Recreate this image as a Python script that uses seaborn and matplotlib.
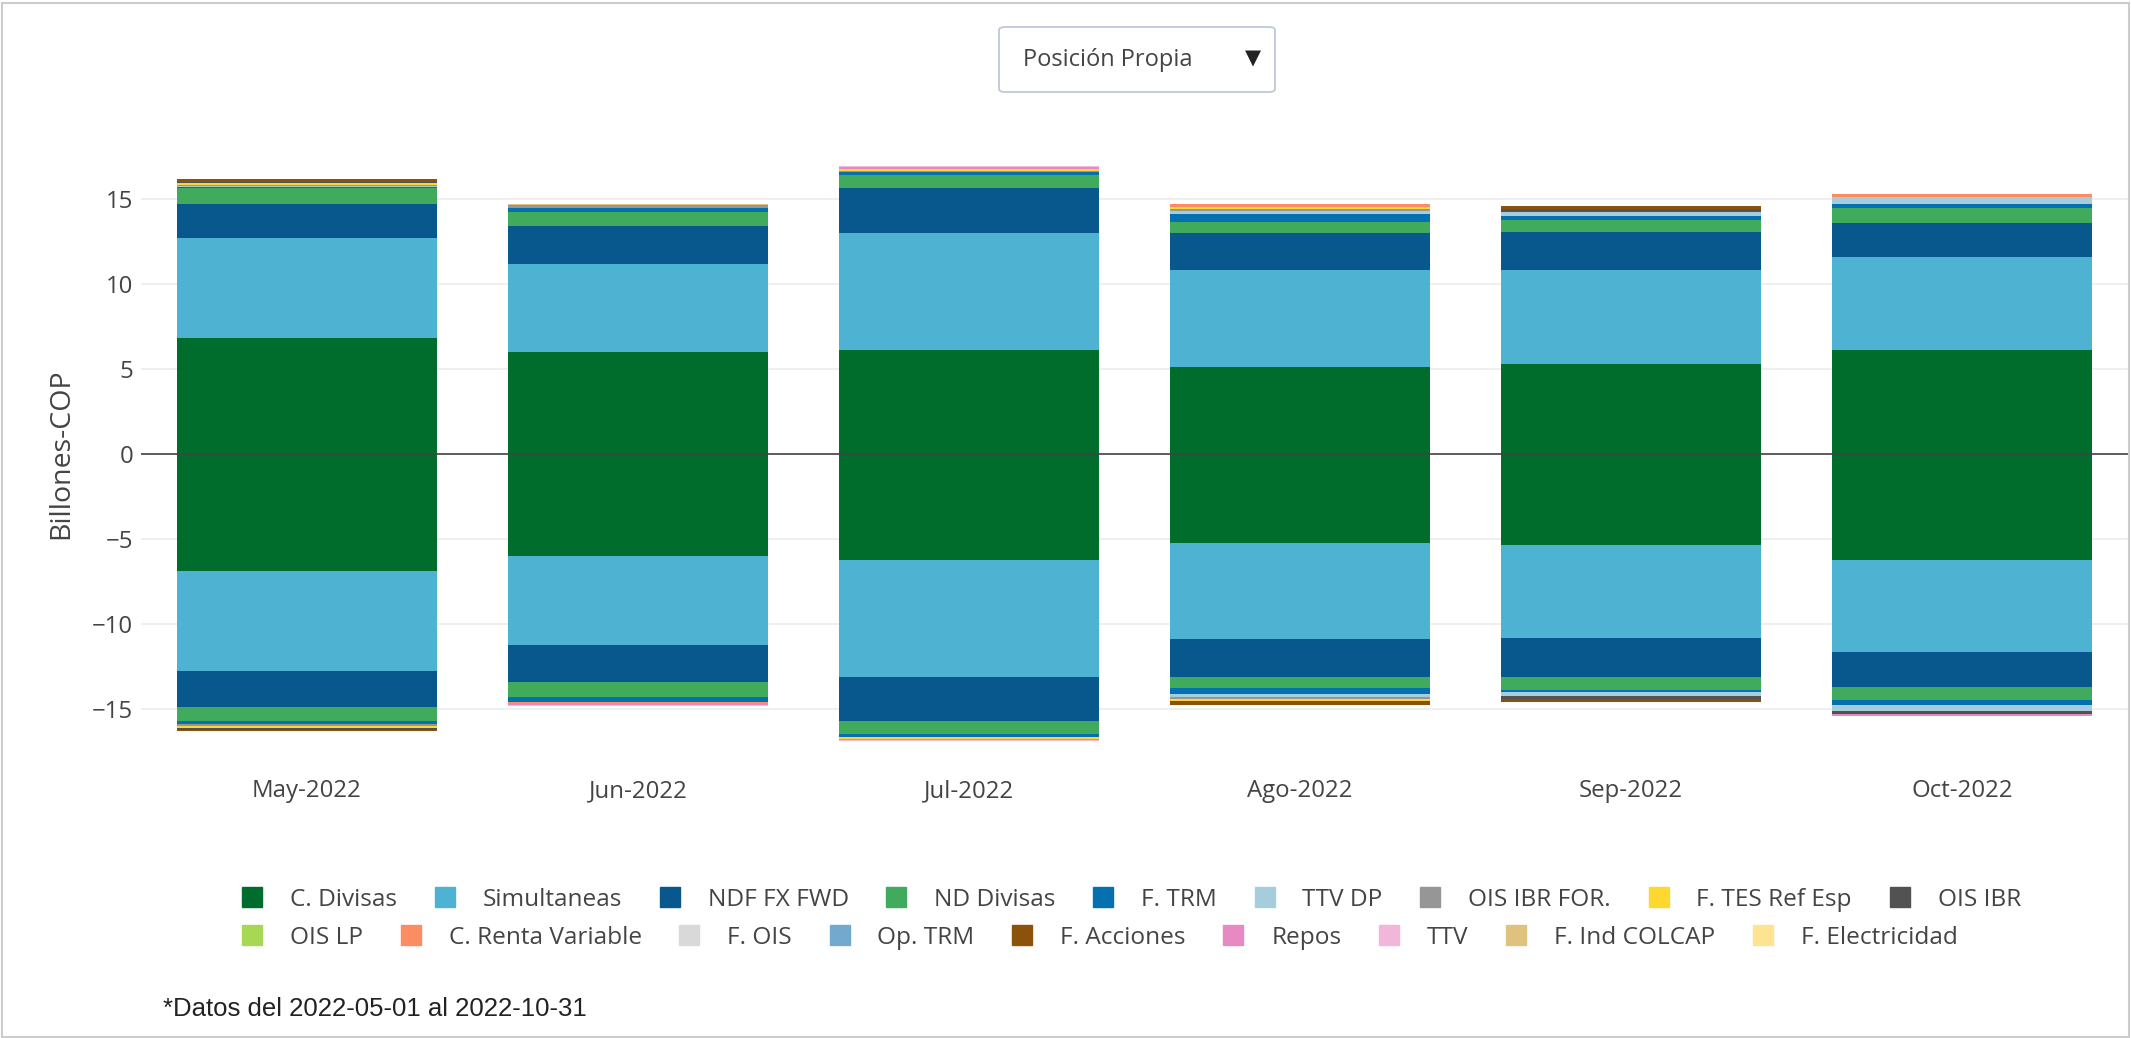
import numpy as np
import pandas as pd
import seaborn as sns
import matplotlib.pyplot as plt
from matplotlib.lines import Line2D
from matplotlib.patches import FancyBboxPatch, Rectangle

# DATOS (billones COP), posicion larga (positiva) y corta (negativa) por mes
meses = ["May-2022", "Jun-2022", "Jul-2022", "Ago-2022", "Sep-2022", "Oct-2022"]

categorias = ["C. Divisas", "Simultaneas", "NDF FX FWD", "ND Divisas", "F. TRM", "TTV DP",
              "OIS IBR FOR.", "F. TES Ref Esp", "OIS IBR", "OIS LP", "C. Renta Variable",
              "F. OIS", "Op. TRM", "F. Acciones", "Repos", "TTV", "F. Ind COLCAP",
              "F. Electricidad"]

colores = ["#006d2c", "#4eb3d3", "#08588e", "#41ab5d", "#0570b0", "#a6cddb",
           "#969696", "#fed82f", "#525252", "#a6d854", "#fc8d62",
           "#d9d9d9", "#74a9cf", "#8c510a", "#e78ac3", "#f1b6da", "#dfc27d",
           "#fee391"]

# posicion larga
c_divisas_pos = [6.8, 6.0, 6.1, 5.1, 5.3, 6.1]
simultaneas_pos = [5.9, 5.15, 6.9, 5.7, 5.5, 5.45]
ndf_pos = [2.0, 2.25, 2.6, 2.2, 2.25, 2.0]
nd_divisas_pos = [0.9, 0.8, 0.8, 0.65, 0.7, 0.9]
f_trm_pos = [0.1, 0.25, 0.15, 0.45, 0.25, 0.25]
ttv_dp_pos = [0.05, 0, 0, 0.2, 0.2, 0.4]
ois_ibr_for_pos = [0.05, 0.15, 0.05, 0.1, 0, 0]
f_tes_pos = [0.1, 0, 0.15, 0.1, 0, 0]
ois_ibr_pos = [0.1, 0, 0, 0, 0.2, 0]
ois_lp_pos = [0, 0, 0, 0, 0, 0]
c_renta_pos = [0, 0, 0, 0.2, 0, 0.15]
f_ois_pos = [0, 0, 0, 0, 0, 0]
op_trm_pos = [0, 0, 0, 0, 0, 0]
f_acciones_pos = [0.15, 0, 0, 0, 0.15, 0]
repos_pos = [0, 0, 0.1, 0, 0, 0]
ttv_pos = [0, 0, 0.05, 0, 0, 0]
f_colcap_pos = [0, 0.1, 0, 0, 0, 0]
f_electricidad_pos = [0, 0, 0, 0, 0, 0]

# posicion corta
c_divisas_neg = [-6.85, -6.0, -6.2, -5.2, -5.35, -6.25]
simultaneas_neg = [-5.9, -5.2, -6.9, -5.65, -5.45, -5.4]
ndf_neg = [-2.1, -2.2, -2.6, -2.25, -2.3, -2.05]
nd_divisas_neg = [-0.85, -0.87, -0.75, -0.65, -0.75, -0.76]
f_trm_neg = [-0.15, -0.3, -0.15, -0.35, -0.15, -0.26]
ttv_dp_neg = [0, 0, 0, -0.2, -0.2, -0.37]
ois_ibr_for_neg = [-0.1, 0, -0.05, -0.1, 0, 0]
f_tes_neg = [-0.15, 0, -0.1, -0.1, 0, 0]
ois_ibr_neg = [-0.1, 0, 0, -0.05, -0.2, -0.2]
ois_lp_neg = [0, 0, 0, 0, 0, 0]
c_renta_neg = [0, -0.1, -0.05, 0, 0, 0]
f_ois_neg = [0, 0, 0, 0, 0, 0]
op_trm_neg = [0, 0, 0, 0, 0, 0]
f_acciones_neg = [-0.05, 0, 0, -0.2, -0.15, 0]
repos_neg = [0, -0.1, 0, 0, 0, -0.1]
ttv_neg = [0, -0.05, -0.05, 0, 0, 0]
f_colcap_neg = [0, 0, 0, 0, 0, 0]
f_electricidad_neg = [0, 0, 0, 0, 0, 0]

series_pos = [c_divisas_pos, simultaneas_pos, ndf_pos, nd_divisas_pos, f_trm_pos, ttv_dp_pos,
              ois_ibr_for_pos, f_tes_pos, ois_ibr_pos, ois_lp_pos, c_renta_pos, f_ois_pos,
              op_trm_pos, f_acciones_pos, repos_pos, ttv_pos, f_colcap_pos, f_electricidad_pos]
series_neg = [c_divisas_neg, simultaneas_neg, ndf_neg, nd_divisas_neg, f_trm_neg, ttv_dp_neg,
              ois_ibr_for_neg, f_tes_neg, ois_ibr_neg, ois_lp_neg, c_renta_neg, f_ois_neg,
              op_trm_neg, f_acciones_neg, repos_neg, ttv_neg, f_colcap_neg, f_electricidad_neg]

# ESTILO
sns.set_style("white")
plt.rcParams['font.family'] = ['Open Sans', 'DejaVu Sans']

fig = plt.figure(figsize=(21.31, 10.38), dpi=100)
ax = fig.add_axes([0.0664, 0.2707, 0.932, 0.5838])

# barras apiladas: se dibuja la suma acumulada de arriba hacia abajo
cum_pos = np.cumsum(np.array(series_pos), axis=0)
cum_neg = np.cumsum(np.array(series_neg), axis=0)
for i in range(len(categorias) - 1, -1, -1):
    for cum in (cum_pos, cum_neg):
        sns.barplot(x=meses, y=cum[i], color=colores[i], width=0.785,
                    saturation=1, errorbar=None, linewidth=0, ax=ax)

ax.set_xlim(-0.5, 5.5)
ax.set_ylim(-17.8, 17.8)
ax.set_yticks([-15, -10, -5, 0, 5, 10, 15])
ax.set_yticklabels(["−15", "−10", "−5", "0", "5", "10", "15"])
ax.grid(axis='y', color='#eeeeee', linewidth=1.3, zorder=0)
ax.set_axisbelow(True)
ax.axhline(0, color='#444444', linewidth=1.2, zorder=5)
sns.despine(ax=ax, left=True, bottom=True)
ax.tick_params(axis='x', length=0, pad=16, labelsize=17.3, labelcolor='#444444')
ax.tick_params(axis='y', length=0, pad=6, labelsize=17.3, labelcolor='#444444')
ax.set_xlabel("")
ax.set_ylabel("Billones-COP", fontsize=20.5, color='#444444', labelpad=12)

# LEYENDA en dos filas
handles = [Line2D([0], [0], marker='s', linestyle='none', markersize=14,
                  markerfacecolor=c, markeredgecolor=c) for c in colores]
for fila, y in ((0, 0.133), (1, 0.0963)):
    idx = range(fila * 9, fila * 9 + 9)
    fig.legend([handles[k] for k in idx], [categorias[k] for k in idx],
               loc='center left', bbox_to_anchor=(0.1126, y), ncol=9,
               frameon=False, fontsize=17.6, handlelength=1.0, handletextpad=1.05,
               columnspacing=1.45, borderpad=0, borderaxespad=0, labelcolor='#444444')

# NOTA
fig.text(0.0765, 0.028, "*Datos del 2022-05-01 al 2022-10-31", fontsize=18.5,
         family='Liberation Sans', color='#222222', va='center')

# MENU DESPLEGABLE
caja = FancyBboxPatch((999 / 2131, 1 - 92 / 1038), 276 / 2131, 65 / 1038,
                      boxstyle="round,pad=0,rounding_size=0.003",
                      transform=fig.transFigure, facecolor='white',
                      edgecolor='#bec8d9', linewidth=1.3)
fig.patches.append(caja)
fig.text(1023 / 2131, 1 - 60 / 1038, "Posición Propia", fontsize=17, color='#444444',
         va='center')
fig.text(1253 / 2131, 1 - 58 / 1038, "▼", fontsize=15, color='#222222',
         va='center', ha='center', family='DejaVu Sans')

# MARCO
fig.patches.append(Rectangle((0.001, 0.001), 0.998, 0.996, transform=fig.transFigure,
                             fill=False, edgecolor='#cccccc', linewidth=1.5))

fig.savefig("out.png", dpi=100)
